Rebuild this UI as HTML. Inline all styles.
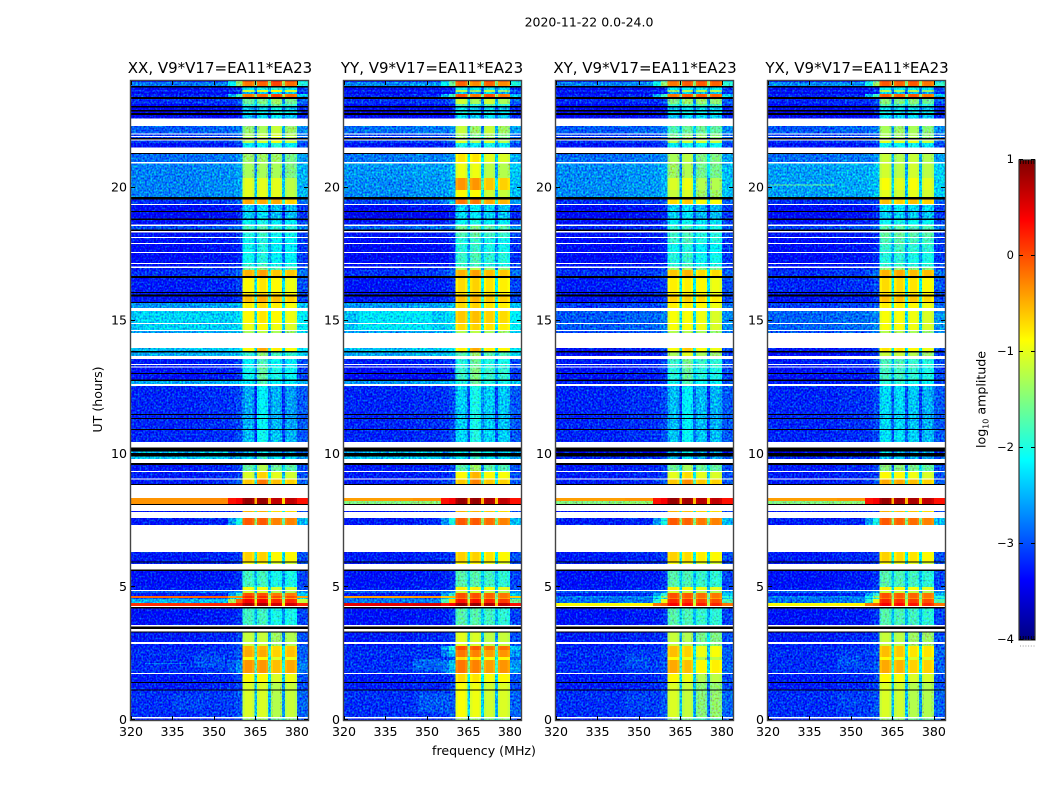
<!DOCTYPE html>
<html>
<head>
<meta charset="utf-8">
<title>2020-11-22 0.0-24.0</title>
<style>
html,body{margin:0;padding:0;background:#fff;width:1050px;height:800px;overflow:hidden}
svg{display:block}
text{font-family:"DejaVu Sans","Liberation Sans",sans-serif;fill:#000}
</style>
</head>
<body>
<svg id="figure" width="1050" height="800" viewBox="0 0 1050 800" xmlns="http://www.w3.org/2000/svg">
  <defs>
    <filter id="grain" filterUnits="userSpaceOnUse" x="0" y="0" width="1050" height="800" color-interpolation-filters="sRGB">
      <feTurbulence type="fractalNoise" baseFrequency="0.55 0.5" numOctaves="1" seed="7" result="n"/>
      <feColorMatrix in="n" type="matrix" values="0 0 0 0 .5  0 1.6 0 0 -.3  0 0 1.2 0 -.1  0 0 0 0 1" result="m"/>
      <feComposite in="SourceGraphic" in2="m" operator="arithmetic" k1="0" k2="1" k3="0.8" k4="-0.4" result="c"/>
      <feComposite in="c" in2="SourceAlpha" operator="in"/>
    </filter>
    <linearGradient id="jet-gradient" x1="0" y1="1" x2="0" y2="0"></linearGradient>
  </defs>
  <rect x="0" y="0" width="1050" height="800" fill="#fff"/>
  <text x="589" y="26.5" font-size="12.5" text-anchor="middle">2020-11-22 0.0-24.0</text>
  <text x="220" y="73" font-size="15" text-anchor="middle">XX, V9*V17=EA11*EA23</text>
  <text x="432" y="73" font-size="15" text-anchor="middle">YY, V9*V17=EA11*EA23</text>
  <text x="645" y="73" font-size="15" text-anchor="middle">XY, V9*V17=EA11*EA23</text>
  <text x="857" y="73" font-size="15" text-anchor="middle">YX, V9*V17=EA11*EA23</text>
  <text x="0" y="0" font-size="12.6" text-anchor="middle" transform="translate(102,399.5) rotate(-90)">UT (hours)</text>
  <text x="484" y="755" font-size="12.6" text-anchor="middle">frequency (MHz)</text>
  <text x="0" y="0" font-size="12.6" text-anchor="middle" transform="translate(985.5,399.5) rotate(-90)">log<tspan font-size="8" dy="3">10</tspan><tspan dy="-3"> amplitude</tspan></text>
  <g id="panels"></g>
  <g id="colorbar"></g>
</svg>
<script>
// Axis ranges and tick labels
const freqRange = [320, 384];
const hourRange = [0, 24];
const levelRange = [-4, 1];
const freqTicks = [320, 335, 350, 365, 380];
const hourTicks = [0, 5, 10, 15, 20];
const colorTicks = [-4, -3, -2, -1, 0, 1];

// Time-row boundaries in hours (UT), top to bottom
const rowEdgeHours = [
24.00,23.96,23.81,23.76,23.66,23.59,23.51,23.40,23.32,23.14,
23.06,23.00,22.91,22.85,22.80,22.72,22.59,22.31,22.03,21.99,
21.93,21.90,21.86,21.80,21.76,21.67,21.50,21.30,21.26,20.96,
20.90,20.36,19.91,19.64,19.55,19.38,19.34,19.12,19.08,18.84,18.78,
18.61,18.55,18.42,18.37,18.31,18.14,18.10,17.92,17.88,17.58,
17.54,17.16,17.13,17.03,16.98,16.90,16.68,16.60,16.08,16.04,
15.98,15.90,15.70,15.66,15.47,15.36,14.91,14.87,14.65,14.61,
14.54,13.97,13.86,13.80,13.67,13.56,13.37,13.33,13.28,13.24,
13.03,13.00,12.79,12.73,12.62,12.54,11.49,11.46,11.34,11.31,
10.93,10.89,10.45,10.23,10.08,10.03,9.89,9.80,9.66,9.58,
9.35,9.31,9.07,9.03,8.86,8.83,8.34,8.23,8.11,8.08,
7.85,7.81,7.59,7.32,6.31,5.95,5.92,5.86,5.65,5.60,
5.00,4.88,4.85,4.77,4.66,4.59,4.54,4.39,4.28,4.24,
4.19,3.57,3.51,3.42,3.32,3.28,2.93,2.85,2.78,2.63,
2.37,2.25,1.77,1.73,1.43,1.39,1.15,1.11,0.11,0.06,0.00];

// n = measured, w = flagged blank, k = black (zero amplitude)
const rowKinds =
"nnknnnnknn"+"knknknwnwn"+"wnkwnnwknw"+"nnnknwnknkn"+"wnkwnwnwnw"+
"nwnwnnknkn"+"knknwnwnwn"+"wnknwnwnwn"+"knknwnknkn"+"knwknknwkn"+
"wnwnkwnnkw"+"nwnwnknwkn"+"nwnnnnnnwk"+"nwkwknwnnn"+"nnwnknknwn";

// Background (off-band) log10 amplitude for each measured row
const bgXX = [
-3.3,-2.8,-3.4,-3.2,-3.45,-3.2,-3.15,-3.35,
-3.45,-3.4,-3.45,-2.95,-3.1,
-3.1,-3.1,-3.3,-2.85,
-2.75,-2.75,-2.75,-3.15,-3.35,-3.35,-3.3,
-3.0,-3.3,-3.3,-3.35,
-3.35,-3.3,-3.25,-3.15,-3.25,-3.25,
-3.3,-2.65,-2.45,-2.45,-2.6,
-2.45,-2.55,-3.25,-3.25,-3.3,
-3.3,-2.55,-3.2,-3.2,-3.2,
-3.2,-2.45,-2.4,-3.25,
-3.25,-3.25,-0.35,-0.35,
-3.3,-3.25,-3.25,-3.25,-3.3,
-3.25,-2.9,-3.25,-0.1,-2.9,-2.5,0.15,
-3.3,-3.25,-3.25,-3.2,-3.15,
-3.2,-3.15,-3.25,-3.25,-3.15,-3.25];
const bgYY = [
-3.3,-2.7,-3.4,-3.2,-3.45,-3.2,-3.15,-3.35,
-3.45,-3.4,-3.45,-2.85,-3.1,
-3.1,-3.1,-3.3,-2.8,
-2.65,-2.7,-2.7,-3.05,-3.35,-3.45,-3.3,
-2.9,-3.3,-3.35,-3.4,
-3.4,-3.3,-3.25,-3.15,-3.3,-3.25,
-3.3,-2.65,-2.45,-2.45,-2.6,
-2.45,-2.55,-3.25,-3.25,-3.35,
-3.35,-2.65,-3.2,-3.2,-3.2,
-3.2,-2.45,-2.4,-3.25,
-3.25,-3.25,-0.4,-1.5,
-3.3,-3.25,-3.25,-3.25,-3.3,
-3.25,-2.9,-3.25,-0.4,-2.9,-2.8,0.5,
-3.3,-3.25,-3.25,-3.2,-3.15,
-3.2,-3.15,-3.25,-3.25,-3.15,-3.25];
const bgXY = [
-3.3,-2.75,-3.4,-3.2,-3.45,-3.2,-3.2,-3.35,
-3.45,-3.4,-3.45,-2.95,-3.1,
-3.1,-3.15,-3.3,-2.85,
-2.7,-2.7,-2.7,-3.15,-3.35,-3.35,-3.3,
-3.2,-3.3,-3.35,-3.35,
-3.35,-3.3,-3.25,-3.15,-3.25,-3.25,
-3.3,-3.1,-2.95,-2.95,-3.0,
-3.25,-3.35,-3.25,-3.25,-3.3,
-3.3,-3.25,-3.2,-3.2,-3.2,
-3.2,-3.45,-3.2,-3.25,
-3.25,-3.25,-0.4,-1.5,
-3.3,-3.25,-3.25,-3.25,-3.3,
-3.25,-2.9,-3.25,-2.75,-2.9,-2.85,-0.9,
-3.3,-3.25,-3.25,-3.2,-3.15,
-3.2,-3.15,-3.25,-3.25,-3.15,-3.25];
const bgYX = [
-3.3,-2.7,-3.4,-3.2,-3.45,-3.2,-3.2,-3.35,
-3.45,-3.4,-3.45,-2.95,-3.1,
-3.1,-3.15,-3.3,-2.85,
-2.6,-2.6,-2.6,-3.15,-3.35,-3.35,-3.3,
-3.05,-3.3,-3.35,-3.35,
-3.35,-3.3,-3.25,-3.15,-3.2,-3.25,
-3.3,-3.1,-2.9,-2.9,-3.0,
-3.25,-3.35,-3.25,-3.25,-3.3,
-3.3,-3.25,-3.2,-3.2,-3.2,
-3.2,-3.45,-3.2,-3.25,
-3.25,-3.25,-0.4,-1.5,
-3.3,-3.25,-3.25,-3.25,-3.3,
-3.25,-2.9,-3.25,-2.75,-2.9,-2.85,-0.9,
-3.3,-3.25,-3.25,-3.2,-3.15,
-3.2,-3.15,-3.25,-3.25,-3.15,-3.25];

// In-band mean log10 amplitude for each measured row
const bandXX = [
0.1,-0.1,-2,-1,-2.4,-0.1,-1.5,-1.8,
-2.3,-2.1,-2.3,-1.3,-1.2,
-1.2,-1.1,-2.1,-1.4,
-1.35,-1.05,-1.05,-0.5,-2.35,-2.35,-2.1,
-1.8,-1.95,-2.05,-2.05,
-2.05,-1.9,-1.6,-0.5,-0.85,-0.75,
-0.55,-0.8,-0.85,-0.95,-1.3,
-0.7,-1.7,-2,-2,-1.9,
-1.9,-2,-2.4,-2.35,-2.35,
-2.3,-2.3,-2.1,-1.5,
-0.9,-0.45,0.8,0.8,
-0.6,-0.15,-0.75,-1,-1.9,
-1,-1.2,-0.1,0.1,-0.3,0.3,0.7,
-1.9,-1.25,-1.25,-0.6,-0.55,
-0.95,-0.45,-0.95,-1.15,-1.15,-1.5];
const bandYY = [
0,-0.2,-2.1,-1.3,-2.4,-0.1,-1.2,-1.8,
-2.3,-2.1,-2.3,-1.25,-1.45,
-1.45,-1.15,-2.1,-0.95,
-1.15,-0.55,-1.05,-0.4,-2.3,-2.3,-2.1,
-1.6,-1.75,-1.95,-1.95,
-1.85,-1.9,-1.3,-0.5,-0.75,-0.75,
-0.6,-0.75,-0.65,-0.75,-1.3,
-0.7,-1.6,-1.85,-1.85,-1.75,
-1.75,-1.85,-2.25,-2.25,-2.25,
-2.2,-2.1,-2.1,-1.6,
-0.75,-0.5,0.8,0.8,
-0.6,-0.15,-0.75,-0.95,-1.8,
-0.9,-1.2,-0.1,-0.1,-0.3,0.2,0.8,
-1.8,-1.15,-1.15,-0.15,-0.35,
-0.85,-0.35,-0.85,-1.05,-1.05,-1.5];
const bandXY = [
0,-0.1,-2.1,-1.3,-2.4,-0.1,-1.4,-1.8,
-2.3,-2.1,-2.3,-1.65,-1.45,
-1.45,-1.15,-2.1,-1.3,
-1.35,-1.05,-1.15,-0.7,-2.35,-2.35,-2.15,
-1.9,-1.85,-1.85,-2.05,
-1.95,-1.9,-1.4,-0.6,-0.85,-0.85,
-0.7,-0.85,-0.95,-0.95,-1.3,
-0.8,-1.2,-1.75,-1.75,-1.85,
-1.85,-1.95,-2.35,-2.35,-2.35,
-2.3,-2.4,-2.4,-1.5,
-0.9,-0.5,0.8,0.8,
-0.6,-0.15,-0.75,-1,-1.8,
-0.9,-1.2,-0.1,-0.1,-0.3,0.1,0.3,
-1.8,-1.25,-1.25,-0.65,-0.65,
-0.95,-0.55,-0.95,-1.15,-1.15,-1.5];
const bandYX = [
0,-0.1,-2.1,-1.3,-2.4,-0.1,-1.5,-1.8,
-2.3,-2.1,-2.3,-1.35,-1.35,
-1.35,-1.05,-2.1,-1.2,
-1.15,-0.95,-1.05,-0.6,-2.25,-2.35,-2.05,
-1.7,-1.65,-1.75,-1.85,
-1.95,-1.9,-1.4,-0.5,-0.75,-0.75,
-0.6,-0.85,-0.95,-0.95,-1.3,
-0.8,-1.2,-1.8,-1.8,-1.85,
-1.85,-1.95,-2.35,-2.35,-2.35,
-2.3,-2.4,-2.4,-1.5,
-0.9,-0.5,0.8,0.8,
-0.6,-0.15,-0.75,-1,-1.8,
-0.9,-1.2,-0.1,-0.1,-0.3,0.1,0.3,
-1.8,-1.25,-1.25,-0.65,-0.65,
-0.95,-0.55,-0.95,-1.15,-1.15,-1.5];

// Sub-band offsets by coarse time zone (four sub-bands per zone)
const zoneEdgeHours = [24, 21.3, 19.4, 16.6, 13.97, 8.83, 3.5, 0];
const tiltXX = [[-0.1,0,0.15,-0.05],[0.05,0.05,0.05,-0.15],[0,0.1,-0.1,-0.1],[0,0.1,0,-0.1],[-0.15,0.25,-0.1,-0.2],[0.1,0.1,-0.1,-0.1],[0.1,0.1,-0.1,0]];
const tiltYY = [[0.1,-0.1,0.1,-0.1],[0.2,0.2,-0.05,-0.1],[0,0.1,-0.05,-0.1],[0.05,0.1,0,-0.05],[-0.1,0.25,-0.1,-0.15],[0.1,0.1,0,-0.1],[0.15,0.1,-0.05,0]];
const tiltXY = [[-0.1,0.05,0.05,0],[0,0.1,-0.2,-0.2],[0,0.1,-0.1,-0.1],[0.05,0.05,0,-0.1],[-0.1,0.2,-0.1,-0.15],[0.1,0.05,-0.05,-0.1],[0.1,0,-0.3,-0.25]];
const tiltYX = [[0.05,0,0.05,-0.1],[0.05,-0.05,0.05,-0.05],[0,0.05,-0.05,-0.05],[0.05,0.05,0,-0.1],[0.05,0.05,-0.05,-0.15],[0.1,0.05,0,-0.1],[0.1,0.05,-0.1,-0.1]];

// Localised features
const patchPanel  = [0,0,0,1,1,2,2,3,3,3,0,0,1,1];
const patchHourLo = [1.98,0.35,2.10,1.85,0.30,1.95,0.40,1.95,0.40,20.08,14.91,14.65,14.91,14.65];
const patchHourHi = [2.42,0.95,2.14,2.30,1.00,2.40,1.00,2.40,1.00,20.11,15.36,14.87,15.36,14.87];
const patchFreqLo = [343,335,325,345,347,345,345,345,345,320,322,322,325,325];
const patchFreqHi = [354,347,340,355,358,354,354,354,354,344,352,352,352,352];
const patchLevel  = [-3.0,-3.05,-2.8,-2.9,-2.95,-3.0,-3.05,-3.0,-3.05,-1.6,-2.35,-2.35,-2.25,-2.25];

const panelNames = ["xx","yy","xy","yx"];
const panelBackgrounds = [bgXX,bgYY,bgXY,bgYX];
const panelBands = [bandXX,bandYY,bandXY,bandYX];
const panelTilts = [tiltXX,tiltYY,tiltXY,tiltYX];

// Layout
const panelLefts = [131,344,556,768];
const panelWidth = 177;
const panelTop = 81, panelBottom = 720;
const SVGNS = "http://www.w3.org/2000/svg";

function yScale(h){ return panelBottom - (h - hourRange[0]) / (hourRange[1] - hourRange[0]) * (panelBottom - panelTop); }
function xScale(f, left){ return left + (f - freqRange[0]) / (freqRange[1] - freqRange[0]) * panelWidth; }
function clip(v){ return Math.max(0, Math.min(1, v)); }
function jetColor(level){
  const t = clip((level - levelRange[0]) / (levelRange[1] - levelRange[0]));
  const r = clip(Math.min(4*t-1.5, -4*t+4.5));
  const g = clip(Math.min(4*t-0.5, -4*t+3.5));
  const b = clip(Math.min(4*t+0.5, -4*t+2.5));
  return "rgb(" + Math.round(r*255) + "," + Math.round(g*255) + "," + Math.round(b*255) + ")";
}
function make(tag, attrs, parent){
  const el = document.createElementNS(SVGNS, tag);
  for (const k in attrs) el.setAttribute(k, attrs[k]);
  parent.appendChild(el);
  return el;
}
function zoneIndex(h){
  for (let i = 0; i < zoneEdgeHours.length - 1; i++) if (h >= zoneEdgeHours[i+1]) return i;
  return zoneEdgeHours.length - 2;
}
// Frequency columns: each returns a level from the row's values
function columnsFor(bg, band, tilt){
  function gap(v){ return v > -1.5 ? v - 1.4 : v - 0.7; }
  const lift = Math.max(0, band + 0.55);
  const cols = [
    [320, 345, bg],
    [345, 355, bg + 0.05],
    [355, 358, Math.min(bg + 0.08 + lift * 1.3, band - 0.5)],
    [358, 360.4, Math.min(bg + 0.18 + lift * 2.6, band - 0.4)]
  ];
  const starts = [360.4, 365.6, 370.6, 375.6];
  const ends = [364.6, 369.6, 374.6, 380];
  for (let s = 0; s < 4; s++){
    const v = band + tilt[s];
    cols.push([starts[s], starts[s] + 0.8, v - 0.1]);
    cols.push([starts[s] + 0.8, ends[s] - 0.8, v]);
    cols.push([ends[s] - 0.8, ends[s], v - 0.1]);
    if (s < 3) cols.push([ends[s], starts[s+1], gap(v)]);
  }
  cols.push([380, 384, Math.min(bg + 0.25 + lift * 1.3, band - 0.5)]);
  return cols;
}

const panelsRoot = document.getElementById("panels");
panelNames.forEach(function(name, p){
  const left = panelLefts[p];
  const panel = make("g", {}, panelsRoot);
  
  
  const grainy = make("g", {filter: "url(#grain)", "shape-rendering": "crispEdges"}, panel);
  
  
  const smooth = make("g", {"shape-rendering": "crispEdges"}, panel);
  
  
  const bgs = panelBackgrounds[p], bands = panelBands[p], tilts = panelTilts[p];
  let m = 0;
  for (let r = 0; r < rowKinds.length; r++){
    const kind = rowKinds[r];
    const y0 = yScale(rowEdgeHours[r]), y1 = yScale(rowEdgeHours[r+1]);
    if (kind === "w") continue;
    if (kind === "k"){
      const black = make("rect", {x: left, y: y0, width: panelWidth, height: y1 - y0, fill: "#000"}, smooth);
      
      
      continue;
    }
    const mid = (rowEdgeHours[r] + rowEdgeHours[r+1]) / 2;
    const cols = columnsFor(bgs[m], bands[m], tilts[zoneIndex(mid)]);
    m++;
    cols.forEach(function(c){
      const x0 = xScale(c[0], left), x1 = xScale(c[1], left);
      const cell = make("rect", {x: x0, y: y0, width: x1 - x0, height: y1 - y0, fill: jetColor(c[2])}, c[2] < -1.3 ? grainy : smooth);
      
      
    });
  }
  patchPanel.forEach(function(pp, i){
    if (pp !== p) return;
    const x0 = xScale(patchFreqLo[i], left), x1 = xScale(patchFreqHi[i], left);
    const y0 = yScale(patchHourHi[i]), y1 = yScale(patchHourLo[i]);
    const patch = make("rect", {x: x0, y: y0, width: x1 - x0, height: y1 - y0, fill: jetColor(patchLevel[i])}, grainy);
    
    
  });
  // Frame and ticks
  const axes = make("g", {stroke: "#000", "stroke-width": 1, fill: "none"}, panel);
  
  
  const frame = make("rect", {x: left - 0.5, y: panelTop - 0.5, width: panelWidth + 1, height: panelBottom - panelTop + 1, stroke: "#444", "stroke-width": 1.4}, axes);
  
  
  freqTicks.forEach(function(f){
    const x = Math.round(xScale(f, left)) + 0.5;
    const t1 = make("line", {x1: x, x2: x, y1: panelBottom, y2: panelBottom - 4}, axes);
    
    
    const t2 = make("line", {x1: x, x2: x, y1: panelTop, y2: panelTop + 4}, axes);
    
    
    const lab = make("text", {x: xScale(f, left), y: 736, "font-size": 12.6, "text-anchor": "middle"}, panel);
    lab.textContent = String(f);
    
    
  });
  hourTicks.forEach(function(h){
    const y = Math.round(yScale(h)) - 0.5;
    const t1 = make("line", {x1: left, x2: left + 4, y1: y, y2: y}, axes);
    
    
    const t2 = make("line", {x1: left + panelWidth, x2: left + panelWidth - 4, y1: y, y2: y}, axes);
    
    
    const lab = make("text", {x: left - 4, y: yScale(h) + 4, "font-size": 12.6, "text-anchor": "end"}, panel);
    lab.textContent = String(h);
    
    
  });
});

// Colour bar
const cbLeft = 1019, cbRight = 1035, cbTop = 160, cbBottom = 640;
function cbY(v){ return cbBottom - (v - levelRange[0]) / (levelRange[1] - levelRange[0]) * (cbBottom - cbTop); }
const grad = document.getElementById("jet-gradient");
for (let i = 0; i <= 40; i++){
  make("stop", {offset: (i / 40), "stop-color": jetColor(levelRange[0] + (levelRange[1] - levelRange[0]) * i / 40)}, grad);
}
const cb = document.getElementById("colorbar");
const cbBar = make("rect", {x: cbLeft, y: cbTop, width: cbRight - cbLeft, height: cbBottom - cbTop, fill: "url(#jet-gradient)", stroke: "#333", "stroke-width": 1.2}, cb);


colorTicks.forEach(function(v){
  const y = Math.round(cbY(v)) - 0.5;
  const t1 = make("line", {x1: cbLeft, x2: cbLeft + 4, y1: y, y2: y, stroke: "#000"}, cb);
  
  
  const t2 = make("line", {x1: cbRight, x2: cbRight - 4, y1: y, y2: y, stroke: "#000"}, cb);
  
  
  const lab = make("text", {x: 1014, y: cbY(v) + 3, "font-size": 11.5, "text-anchor": "end"}, cb);
  lab.textContent = (v < 0 ? "\u2212" : "") + Math.abs(v);
  
  
});
for (let i = 0; i < 6; i++){
  const x = cbLeft + 1.5 + i * 2.7;
  const top = make("line", {x1: x, x2: x, y1: cbTop, y2: cbTop + 4, stroke: "#000", "stroke-width": 0.8}, cb);
  
  
  const bot = make("line", {x1: x, x2: x, y1: cbBottom, y2: cbBottom - 4, stroke: "#000", "stroke-width": 0.8}, cb);
  
  
  const dot = make("rect", {x: x - 0.5, y: 645.5, width: 1, height: 1, fill: "#999"}, cb);
  
  
}
</script>
</body>
</html>
